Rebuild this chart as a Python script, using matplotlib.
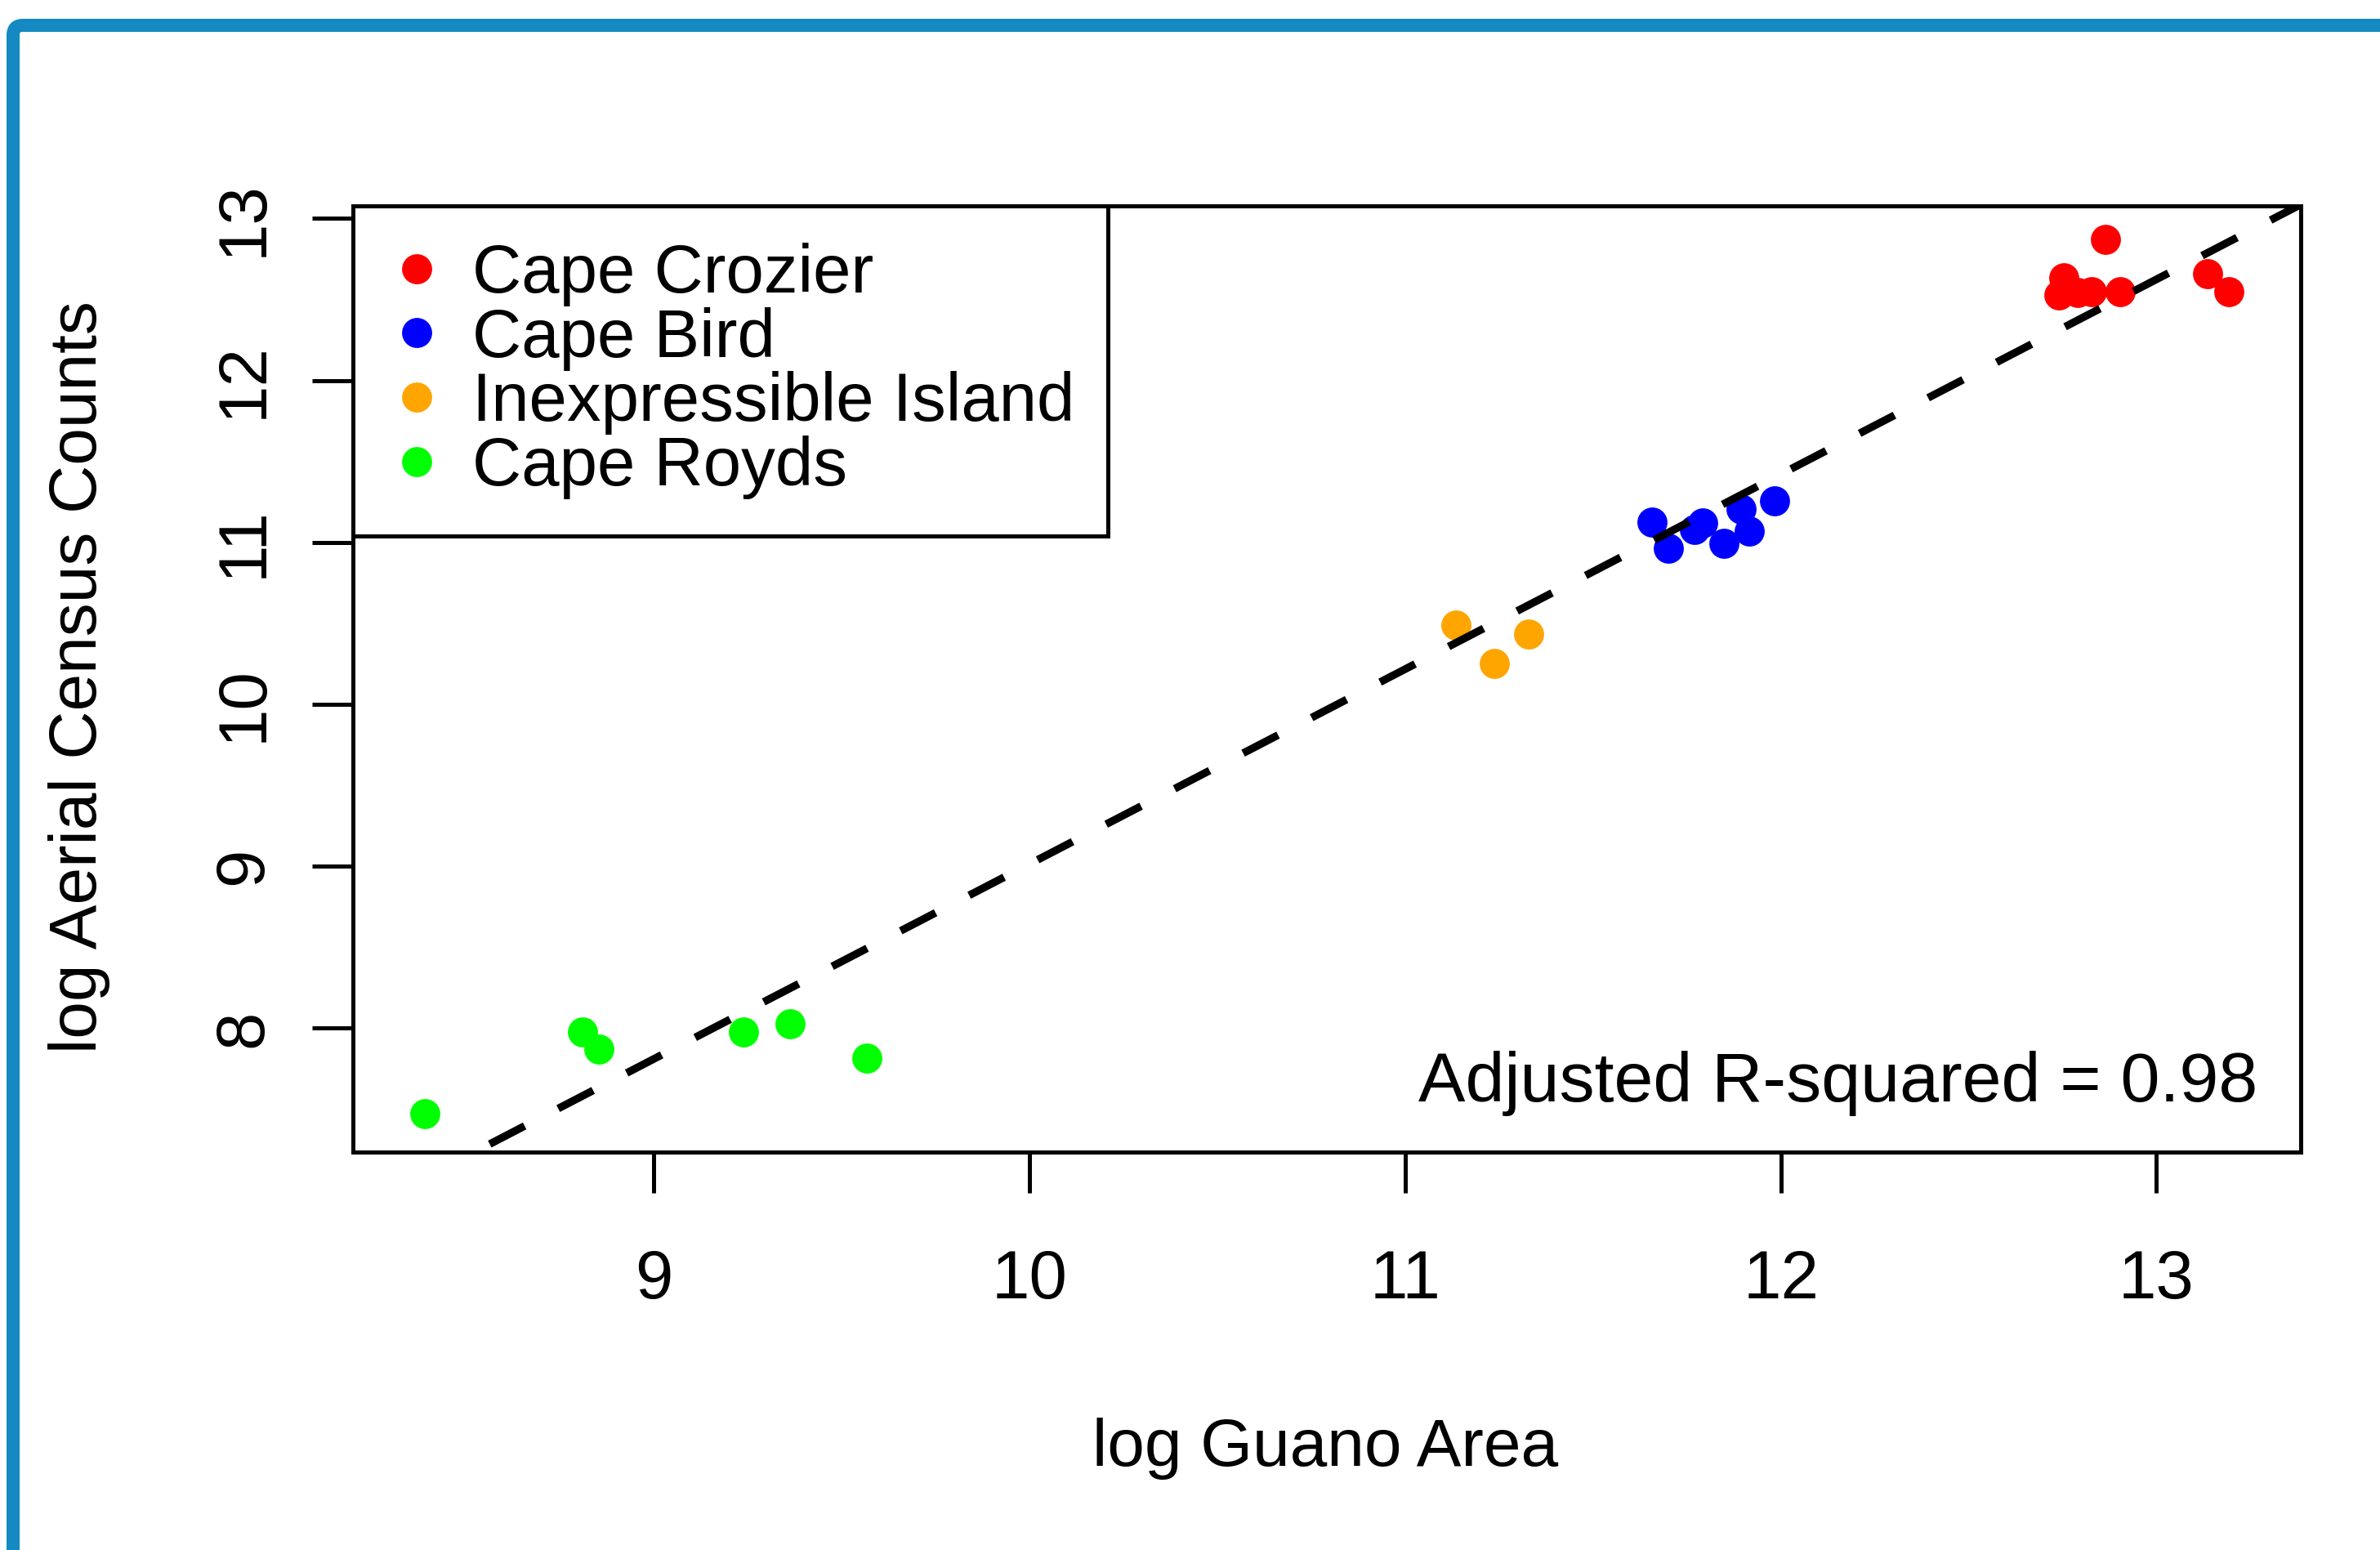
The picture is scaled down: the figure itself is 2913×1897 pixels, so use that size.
import matplotlib
matplotlib.use("Agg")
import matplotlib.pyplot as plt
from matplotlib.lines import Line2D
from matplotlib.patches import FancyBboxPatch
from matplotlib.transforms import IdentityTransform

plt.rcParams['font.family'] = ['Liberation Sans', 'DejaVu Sans']

# ---- data ----
crozier_x = [12.753, 12.740, 12.791, 12.827, 12.865, 12.903, 13.135, 13.193]
crozier_y = [12.633, 12.527, 12.541, 12.549, 12.869, 12.549, 12.658, 12.549]

bird_x = [11.656, 11.700, 11.769, 11.792, 11.848, 11.893, 11.916, 11.983]
bird_y = [11.125, 10.965, 11.078, 11.120, 10.993, 11.204, 11.069, 11.254]

inex_x = [11.136, 11.237, 11.329]
inex_y = [10.489, 10.250, 10.435]

royds_x = [8.390, 8.809, 8.853, 9.239, 9.362, 9.567]
royds_y = [7.470, 7.975, 7.869, 7.975, 8.025, 7.813]

colonies = ["Cape Crozier", "Cape Bird", "Inexpressible Island", "Cape Royds"]
colors = ["#FF0000", "#0000FF", "#FFA500", "#00FF00"]

fit_intercept = -3.02
fit_slope = 1.2034
r2_text = "Adjusted R-squared = 0.98"

x_ticks = [9, 10, 11, 12, 13]
y_ticks = [8, 9, 10, 11, 12, 13]
x_label = "log Guano Area"
y_label = "log Aerial Census Counts"

# ---- figure ----
W, H = 2913, 1897
DPI = 100
fig = plt.figure(figsize=(W / DPI, H / DPI), dpi=DPI, facecolor="white")

# blue outer frame (cropped at right and bottom)
frame = FancyBboxPatch((16, -60), W + 100, (H - 31) + 60,
                       boxstyle="round,pad=0,rounding_size=12",
                       transform=IdentityTransform(),
                       linewidth=16 * 72 / DPI, edgecolor="#1589c1",
                       facecolor="none")
fig.add_artist(frame)

ax = fig.add_axes([0.14820, 0.25672, 0.81851, 0.61060])
xlim = (8.198, 13.384)
ylim = (7.235, 13.079)
ax.set_xlim(*xlim)
ax.set_ylim(*ylim)

series = [(crozier_x, crozier_y), (bird_x, bird_y), (inex_x, inex_y), (royds_x, royds_y)]
for (xs, ys), c in zip(series, colors):
    ax.plot(xs, ys, linestyle="none", marker="o", markersize=26.5,
            markerfacecolor=c, markeredgecolor="none", zorder=3)

# regression line (dashed)
lx = [xlim[0], xlim[1]]
ly = [fit_intercept + fit_slope * v for v in lx]
ax.plot(lx, ly, color="black", linewidth=6.8, dashes=(5.1, 4.9),
        dash_capstyle="butt", zorder=4)

# axes styling
lw = 5 * 72 / DPI
for s in ax.spines.values():
    s.set_linewidth(lw)
    s.set_color("black")
ax.set_xticks(x_ticks)
ax.set_yticks(y_ticks)
ax.set_xticklabels([str(v) for v in x_ticks])
ax.set_yticklabels([str(v) for v in y_ticks])
ax.tick_params(axis="both", direction="out", length=36, width=lw,
               labelsize=60, colors="black")
ax.tick_params(axis="x", pad=49)
ax.tick_params(axis="y", pad=32)
for lab in ax.get_yticklabels():
    lab.set_rotation(90)
    lab.set_verticalalignment("center")
    lab.set_horizontalalignment("right")

# axis labels
fig.text(0.557, 0.0654, x_label, ha="center", va="center", fontsize=59)
fig.text(0.0333, 1 - 829 / H, y_label, ha="center", va="center",
         rotation=90, fontsize=59)

# R-squared annotation
ax.text(0.9778, 0.0535, r2_text, transform=ax.transAxes,
        ha="right", va="baseline", fontsize=62)

# legend
handles = [Line2D([], [], linestyle="none", marker="o", markersize=26.5,
                  markerfacecolor=c, markeredgecolor="none") for c in colors]
leg = ax.legend(handles, colonies, loc="upper left",
                bbox_to_anchor=(0, 0, 924 / 2384.3, 1), mode="expand",
                borderaxespad=0, borderpad=0.54, handlelength=0.79,
                handletextpad=0.42, labelspacing=0.01, fontsize=60,
                fancybox=False, framealpha=1, edgecolor="black")
leg.get_frame().set_linewidth(lw)
leg.set_zorder(5)

fig.savefig("out.png", dpi=DPI, facecolor="white")
